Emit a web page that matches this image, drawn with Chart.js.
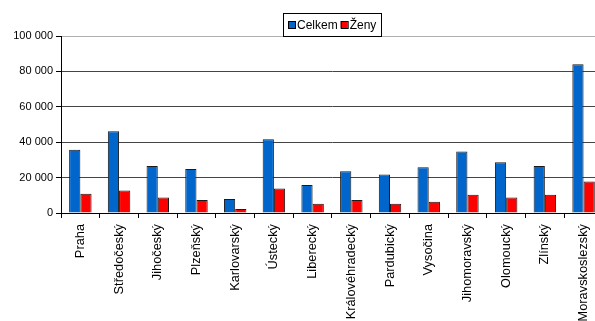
<!DOCTYPE html>
<html>
<head>
<meta charset="utf-8">
<script src="https://cdn.jsdelivr.net/npm/chart.js@4/dist/chart.umd.min.js"></script>
<style>
  html, body { margin: 0; padding: 0; background: #fff; overflow: hidden; }
  #wrap { width: 605px; height: 335px; }
</style>
</head>
<body>
<div id="wrap"><canvas id="chart" width="605" height="335"></canvas></div>
<script>
const categories = ['Praha', 'Středočeský', 'Jihočeský', 'Plzeňský', 'Karlovarský', 'Ústecký', 'Liberecký',
  'Královéhradecký', 'Pardubický', 'Vysočina', 'Jihomoravský', 'Olomoucký', 'Zlínský', 'Moravskoslezský'];
const celkem = [35800, 46200, 26600, 24800, 7900, 41700, 15800, 23600, 21700, 25900, 34700, 28700, 26600, 84100];
const zeny = [10900, 12700, 8800, 7300, 2250, 13900, 5200, 7300, 5200, 6400, 10300, 8800, 10300, 17800];
const yTickLabels = ['0', '20 000', '40 000', '60 000', '80 000', '100 000'];

const FAMILY = '"Liberation Sans", Arial, sans-serif';

// boxed legend in the top middle
const boxLegend = {
  id: 'boxLegend',
  afterDraw(chart) {
    const ctx = chart.ctx;
    const x = 283, y = 13, w = 98, h = 23;
    ctx.save();
    ctx.fillStyle = '#fff';
    ctx.fillRect(x, y, w, h);
    ctx.strokeStyle = '#000';
    ctx.lineWidth = 1;
    ctx.strokeRect(x + 0.5, y + 0.5, w, h);
    ctx.font = '12px ' + FAMILY;
    ctx.textBaseline = 'alphabetic';
    let cx = x + 5;
    chart.data.datasets.forEach(ds => {
      ctx.fillStyle = ds.backgroundColor;
      ctx.fillRect(cx, y + 8, 7, 7);
      ctx.strokeStyle = '#000';
      ctx.strokeRect(cx + 0.5, y + 8.5, 7, 7);
      ctx.fillStyle = '#000';
      ctx.fillText(ds.label, cx + 9, y + 16);
      cx += 9 + ctx.measureText(ds.label).width + 3;
    });
    ctx.restore();
  }
};

new Chart(document.getElementById('chart'), {
  type: 'bar',
  data: {
    labels: categories,
    datasets: [
      { label: 'Celkem', data: celkem, backgroundColor: '#0066CC', borderColor: '#1a1a1a', borderWidth: 1 },
      { label: 'Ženy', data: zeny, backgroundColor: '#FF0000', borderColor: '#1a1a1a', borderWidth: 1 }
    ]
  },
  options: {
    responsive: false,
    animation: false,
    layout: { padding: { top: 36, right: 2, left: 0, bottom: 0 } },
    datasets: { bar: { categoryPercentage: 0.58, barPercentage: 1 } },
    plugins: { legend: { display: false }, tooltip: { enabled: false } },
    scales: {
      x: {
        afterFit: s => { s.height = 122; },
        grid: { offset: true, drawOnChartArea: false, drawTicks: true, tickLength: 5, tickColor: '#000' },
        border: { color: '#000' },
        ticks: {
          color: '#000', font: { family: FAMILY, size: 12.8 },
          minRotation: 90, maxRotation: 90, autoSkip: false, padding: 6
        }
      },
      y: {
        min: 0, max: 100000,
        afterFit: s => { s.width = 61; },
        grid: {
          color: ctx => ctx.index === 5 ? '#b0b0b0' : '#444',
          tickColor: '#000', tickLength: 5
        },
        border: { color: '#000' },
        ticks: {
          stepSize: 20000, color: '#000', font: { family: FAMILY, size: 11 }, padding: 3,
          callback: (v, i) => yTickLabels[i]
        }
      }
    }
  },
  plugins: [boxLegend]
});
</script>
</body>
</html>
